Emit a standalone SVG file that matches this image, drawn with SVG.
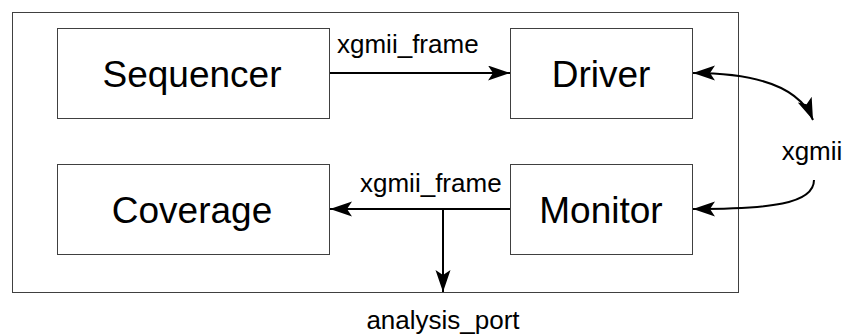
<svg xmlns="http://www.w3.org/2000/svg" width="845" height="336" viewBox="0 0 845 336">
  <style>
    .box { fill: #ffffff; stroke: #404040; stroke-width: 1; }
    .frame { fill: none; stroke: #404040; stroke-width: 1; }
    .big { font-family: "Liberation Sans", Arial, sans-serif; font-size: 37px; fill: #000; text-anchor: middle; }
    .small { font-family: "Liberation Sans", Arial, sans-serif; font-size: 26px; fill: #000; }
    .wire { fill: none; stroke: #000; stroke-width: 2; }
  </style>
  <defs>
    <marker id="arrow" markerUnits="userSpaceOnUse" markerWidth="24" markerHeight="16" refX="22" refY="7.5" orient="auto-start-reverse" viewBox="0 0 24 16">
      <path d="M0,0 L22,7.5 L0,15 L5,7.5 Z" fill="#000"/>
    </marker>
  </defs>

  <!-- agent boundary -->
  <rect class="frame" x="12.5" y="12.5" width="726" height="280"/>

  <g id="sequencer">
    <rect class="box" x="57.5" y="28.5" width="272" height="90"/>
    <text class="big" x="192" y="87">Sequencer</text>
  </g>
  <g id="driver">
    <rect class="box" x="510.5" y="28.5" width="182" height="90"/>
    <text class="big" x="601" y="87">Driver</text>
  </g>
  <g id="coverage">
    <rect class="box" x="57.5" y="164.5" width="272" height="90"/>
    <text class="big" x="192" y="223">Coverage</text>
  </g>
  <g id="monitor">
    <rect class="box" x="510.5" y="164.5" width="182" height="90"/>
    <text class="big" x="601" y="223">Monitor</text>
  </g>

  <g id="connectors">
    <path class="wire" d="M330,73 L510,73" marker-end="url(#arrow)"/>
    <text class="small" x="337" y="53">xgmii_frame</text>

    <path class="wire" d="M510,209 L330,209" marker-end="url(#arrow)"/>
    <text class="small" x="360" y="192">xgmii_frame</text>

    <path class="wire" d="M443,209 L443,292" marker-end="url(#arrow)"/>
    <text class="small" x="443" y="329" text-anchor="middle">analysis_port</text>

    <path class="wire" d="M693,73 C760,73 800,88 813,120" marker-start="url(#arrow)" marker-end="url(#arrow)"/>
    <text class="small" x="812" y="160" text-anchor="middle">xgmii</text>
    <path class="wire" d="M814,180 C814,204 770,209 693,209" marker-end="url(#arrow)"/>
  </g>
</svg>
